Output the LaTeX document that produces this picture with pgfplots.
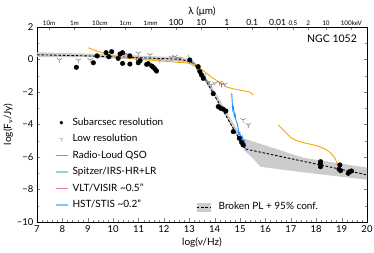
\documentclass[border=0pt]{standalone}
\usepackage{fontspec}
\setmainfont{Lato}
\usepackage{pgfplots}
\pgfplotsset{compat=1.18}
\definecolor{qso}{HTML}{FFA500}
\definecolor{spz}{HTML}{3CB371}
\definecolor{vlt}{HTML}{DC143C}
\definecolor{hst}{HTML}{1E90FF}
\definecolor{spzL}{HTML}{98D8AE}
\definecolor{vltL}{HTML}{EC7F93}
\definecolor{hstL}{HTML}{86C2FF}
\pgfdeclareplotmark{tridown}{%
  \pgfpathmoveto{\pgfqpoint{0pt}{0pt}}\pgfpathlineto{\pgfqpoint{0pt}{-\pgfplotmarksize}}%
  \pgfpathmoveto{\pgfqpoint{0pt}{0pt}}\pgfpathlineto{\pgfpointpolar{30}{\pgfplotmarksize}}%
  \pgfpathmoveto{\pgfqpoint{0pt}{0pt}}\pgfpathlineto{\pgfpointpolar{150}{\pgfplotmarksize}}%
  \pgfusepathqstroke}
\pgfplotsset{
  mylinelegend/.style={legend image code/.code={\path[draw=none,fill=none] (0pt,-3pt) rectangle (12pt,3pt); \draw[draw=#1, line width=1.4pt, solid, opacity=1] (0pt,0pt) -- (12pt,0pt);}},
  mymarklegend/.style={legend image code/.code={\path[draw=none,fill=none] (0pt,-3pt) rectangle (12pt,3pt); \draw[##1] plot coordinates {(5.5pt,0pt)};}},
  mybandlegend/.style={legend image code/.code={%
    \fill[black!20] (0pt,-4pt) rectangle (13pt,4pt);
    \draw[black, line width=0.9pt, dash pattern=on 2.5pt off 1.8pt] (0pt,0pt) -- (13pt,0pt);}},
}
\begin{document}
\begin{tikzpicture}
\path[use as bounding box] (-37pt,-31pt) rectangle (337pt,222pt);
% top wavelength axis + second legend
\begin{axis}[at={(0,0)}, anchor=south west, scale only axis, width=330pt, height=195pt,
  xmin=7, xmax=20, ymin=-10, ymax=2,
  axis x line*=top, axis y line=none, xtick align=inside,
  major tick length=3pt, minor tick length=1.5pt,
  /pgf/number format/assume math mode=true,
  xtick={7.477,8.477,9.477,10.477,11.477,12.477,13.477,14.477,15.477,16.477,17.083,17.685,18.384,19.384},
  xticklabels={{\fontsize{6.3}{7}\selectfont 10m},{\fontsize{6.3}{7}\selectfont 1m},{\fontsize{6.3}{7}\selectfont 10cm},{\fontsize{6.3}{7}\selectfont 1cm},{\fontsize{6.3}{7}\selectfont 1mm},
    {\fontsize{8.5}{9}\selectfont 100},{\fontsize{8.5}{9}\selectfont 10},{\fontsize{8.5}{9}\selectfont 1},{\fontsize{8.5}{9}\selectfont 0.1},{\fontsize{8.5}{9}\selectfont 0.01},
    {\fontsize{6.3}{7}\selectfont 0.5},{\fontsize{6.3}{7}\selectfont 2},{\fontsize{6.3}{7}\selectfont 10},{\fontsize{6.3}{7}\selectfont 100keV}},
  xticklabel style={inner sep=1.5pt},
  minor xtick={7.0,7.176,
    7.523,7.574,7.632,7.699,7.778,7.875,8.0,8.176,
    8.523,8.574,8.632,8.699,8.778,8.875,9.0,9.176,
    9.523,9.574,9.632,9.699,9.778,9.875,10.0,10.176,
    10.523,10.574,10.632,10.699,10.778,10.875,11.0,11.176,
    11.523,11.574,11.632,11.699,11.778,11.875,12.0,12.176,
    12.523,12.574,12.632,12.699,12.778,12.875,13.0,13.176,
    13.523,13.574,13.632,13.699,13.778,13.875,14.0,14.176,
    14.523,14.574,14.632,14.699,14.778,14.875,15.0,15.176,
    15.523,15.574,15.632,15.699,15.778,15.875,16.0,16.176,
    16.523,16.574,16.632,16.699,16.778,16.875,
    17.383,17.861,17.986,18.083,18.16,18.226,18.685,18.86,19.083,19.16,19.226,19.86},
  xlabel={λ (μm)}, xlabel style={font=\fontsize{10}{12}\selectfont, inner sep=1pt},
  legend style={draw=none, fill=none, inner sep=0pt, at={(0.482,0.077)}, anchor=west,
    font=\fontsize{10}{12}\selectfont, nodes={inner sep=0pt, text height=7.5pt, text depth=2pt},
    /tikz/every odd column/.append style={column sep=8.5pt}},
  legend cell align=left,
]
\addlegendimage{mybandlegend}
\addlegendentry{Broken PL + 95\% conf.}
\end{axis}
% main axis
\begin{axis}[at={(0,0)}, anchor=south west, scale only axis, width=330pt, height=195pt,
  xmin=7, xmax=20, ymin=-10, ymax=2,
  xtick={7,...,20}, xtick pos=bottom, minor x tick num=4,
  ytick={-10,-8,-6,-4,-2,0,2}, yticklabels={−10,−8,−6,−4,−2,0,2},
  ytick pos=both, minor y tick num=1,
  tick align=inside, major tick length=3.5pt, minor tick length=2pt,
  /pgf/number format/assume math mode=true,
  ticklabel style={font=\fontsize{9.5}{11}\selectfont},
  xlabel={log(ν/Hz)}, ylabel={log(F\textsubscript{ν}/Jy)},
  label style={font=\fontsize{10}{12}\selectfont},
  xlabel style={yshift=2pt}, ylabel style={yshift=-3pt},
  legend style={draw=none, fill=none, inner sep=0pt, at={(0.0545,0.535)}, anchor=north west,
    font=\fontsize{10}{12}\selectfont, row sep=7pt,
    nodes={inner sep=0pt, text height=7.5pt, text depth=2pt},
    /tikz/every odd column/.append style={column sep=4pt}},
  legend cell align=left,
]
\addlegendimage{only marks, mark=*, mark size=1.6pt, black, mymarklegend}
\addlegendentry{Subarcsec resolution}
\addlegendimage{only marks, mark=tridown, mark size=2.4pt, gray!70, line width=0.5pt, mymarklegend}
\addlegendentry{Low resolution}
\addlegendimage{mylinelegend={orange}}
\addlegendentry{Radio-Loud QSO}
\addlegendimage{mylinelegend=spzL}
\addlegendentry{Spitzer/IRS-HR+LR}
\addlegendimage{mylinelegend=vltL}
\addlegendentry{VLT/VISIR \textasciitilde0.5"}
\addlegendimage{mylinelegend=hstL}
\addlegendentry{HST/STIS \textasciitilde0.2"}

% 95% confidence band
\addplot[fill=black!20, draw=none, forget plot] coordinates {
 (7,0.44) (9,0.36) (11,0.24) (12.5,0.14) (12.9,0.05) (13.2,-0.2) (13.5,-0.75) (14,-1.95)
 (14.5,-3.3) (15.0,-4.6) (15.13,-4.85) (17.5,-6.05) (20,-6.65)
 (20,-7.4) (17,-6.85) (15.8,-6.6) (15.45,-6.0) (15.2,-5.65) (15,-5.05) (14.5,-3.7)
 (14,-2.3) (13.5,-1.05) (13.2,-0.45) (12.9,-0.2) (12.5,-0.12) (11,0.0) (9,0.14) (7,0.14)} -- cycle;
% broken power law
\addplot[black, line width=0.9pt, dash pattern=on 2.5pt off 1.8pt, forget plot] coordinates {
 (7,0.29) (9,0.22) (11,0.11) (12.5,0.02) (12.8,-0.04) (13.0,-0.12) (13.2,-0.3) (13.42,-0.65)
 (15.19,-5.5) (20,-7.1)};
% Radio-loud QSO
\addplot[qso, line width=0.9pt, forget plot] coordinates {
 (9.02,0.72) (9.5,0.45) (9.87,0.28) (10.2,0.15) (10.66,0.07) (11.5,-0.05) (12.3,-0.14) (12.96,-0.22)
 (13.22,-0.3) (13.45,-0.55) (13.68,-0.85) (13.94,-1.16) (14.27,-1.47) (14.47,-1.7) (14.73,-1.8)
 (14.93,-1.86) (15.25,-1.96) (15.39,-2.0) (15.52,-2.18)};
\addplot[qso, line width=0.9pt, forget plot] coordinates {
 (16.5,-4.03) (16.8,-4.5) (17.0,-4.8) (17.2,-4.98) (17.5,-5.12) (17.9,-5.26) (18.14,-5.37)
 (18.4,-5.55) (18.6,-5.8) (18.75,-6.1) (18.82,-6.4) (19.0,-6.49)};
% Spitzer
\addplot[spz, line width=0.9pt, forget plot] coordinates {
 (12.96,0.3) (12.96,-0.1) (13.0,0.0) (13.1,-0.1) (13.2,-0.22) (13.3,-0.4) (13.4,-0.6)
 (13.5,-0.85) (13.6,-1.1) (13.62,-0.95) (13.64,-1.2) (13.7,-1.3) (13.8,-1.45)};
% VLT
\addplot[vlt, line width=1pt, forget plot] coordinates {
 (13.3,-0.55) (13.35,-0.75) (13.38,-0.68) (13.42,-0.95) (13.45,-1.05) (13.5,-1.2)};
% HST
\addplot[hst, line width=0.9pt, forget plot] coordinates {
 (14.67,-2.05) (14.69,-2.6) (14.71,-3.1) (14.74,-2.95) (14.77,-3.5) (14.8,-3.35) (14.84,-3.75)
 (14.88,-3.9) (14.92,-4.2) (14.95,-4.6) (14.99,-4.5) (15.03,-4.85) (15.08,-4.7) (15.13,-5.1)
 (15.18,-5.0) (15.22,-5.4) (15.25,-5.6)};
% low resolution
\addplot[only marks, mark=tridown, mark size=3pt, gray, line width=0.6pt, forget plot] coordinates {
 (7.88,-0.03) (8.63,-0.05) (9.09,-0.03) (10.45,0.3) (10.55,0.3) (10.6,0.28) (10.92,0.07)
 (10.99,0.38) (11.45,0.28) (11.84,-0.07) (12.3,0.13) (12.43,0.17) (12.56,0.07) (12.63,0.05)
 (13.74,-1.42) (13.88,-1.57) (14.01,-1.47) (14.2,-1.42) (14.27,-1.53) (14.4,-1.53)
 (15.12,-3.72) (15.32,-4.03)};
% subarcsec
\addplot[only marks, mark=*, mark size=2.3pt, black, forget plot] coordinates {
 (8.55,-0.48) (9.22,-0.2) (9.37,0.22) (9.72,0.42) (9.94,0.48) (9.83,0.17) (10.2,0.07) (10.27,0.34)
 (10.37,0.42) (10.37,-0.24) (10.66,0.21) (10.66,-0.28) (10.99,-0.2) (11.06,-0.07) (11.32,-0.3)
 (11.38,-0.26) (11.52,-0.4) (11.58,-0.48) (11.65,-0.6) (11.71,-0.71)
 (13.02,-0.03) (13.35,-0.44) (13.42,-0.75) (13.48,-0.95) (13.55,-1.16) (13.94,-2.1)
 (14.14,-2.9) (14.23,-3.0) (14.33,-3.05) (14.44,-3.17) (14.73,-4.44) (14.97,-4.85) (15.06,-5.1)
 (15.12,-5.26)
 (18.17,-6.29) (18.17,-6.43) (18.17,-6.6) (18.93,-6.49) (18.9,-6.76) (18.96,-6.84)
 (19.26,-7.0) (19.32,-6.9) (19.39,-6.86)};
\node[anchor=north east, font=\fontsize{10.5}{12}\selectfont, inner sep=0pt] at (rel axis cs:0.97,0.96) {NGC 1052};
\end{axis}
\end{tikzpicture}
\end{document}
